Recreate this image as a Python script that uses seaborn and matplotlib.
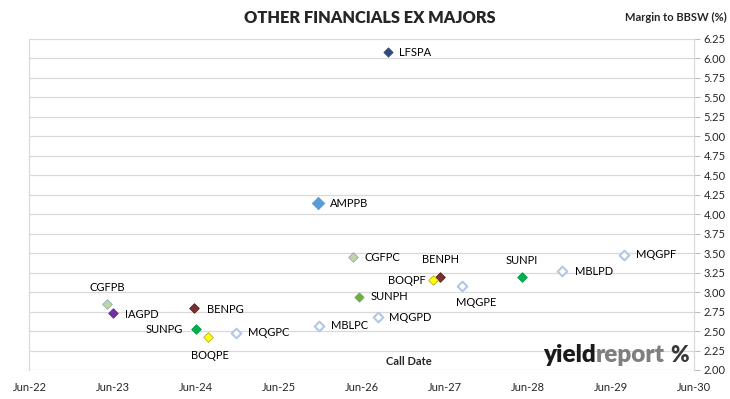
import pandas as pd
import seaborn as sns
import matplotlib.pyplot as plt
import matplotlib.dates as mdates

# Securities: code, call date, margin to BBSW (%)
codes = ['LFSPA', 'AMPPB', 'CGFPC', 'BENPH', 'BOQPF', 'SUNPH', 'MQGPD', 'MBLPC', 'MQGPE',
         'SUNPI', 'MBLPD', 'MQGPF', 'CGFPB', 'IAGPD', 'BENPG', 'SUNPG', 'BOQPE', 'MQGPC']
call_dates = ['2026-09-25', '2025-11-19', '2026-04-24', '2027-05-12', '2027-04-11', '2026-05-21',
              '2026-08-11', '2025-11-25', '2027-08-15', '2028-05-05', '2028-10-29', '2029-07-27',
              '2023-05-08', '2023-06-01', '2024-05-25', '2024-06-01', '2024-07-26', '2024-11-25']
margins = [6.08, 4.14, 3.45, 3.19, 3.15, 2.94, 2.68, 2.57, 3.08,
           3.19, 3.27, 3.48, 2.85, 2.73, 2.79, 2.52, 2.42, 2.48]

# marker styling per issuer family (face, edge, size)
styles = {
    'LFSPA': ('#2E4A7D', '#2E4A7D', 22),
    'AMPPB': ('#5B9BD5', '#5B9BD5', 40),
    'CGFP': ('#C3D69B', '#8EA9C9', 24),
    'BENP': ('#7B2F2F', '#5A1F1F', 24),
    'BOQP': ('#FFFF00', '#B0B040', 24),
    'SUNPH': ('#70AD47', '#70AD47', 22),
    'SUNP': ('#00B050', '#00A040', 24),
    'MQGP': ('white', '#B4C6E7', 24),
    'MBLP': ('white', '#B4C6E7', 24),
    'IAGPD': ('#7030A0', '#7030A0', 24),
}

# label placement (offset in points, alignment)
label_pos = {
    'LFSPA': (8, 0, 'left'), 'AMPPB': (9, 0, 'left'), 'CGFPC': (8, 0, 'left'),
    'BENPH': (0, 13, 'center'), 'BOQPF': (-5, 0, 'right'), 'SUNPH': (8, 0, 'left'),
    'MQGPD': (8, 0, 'left'), 'MBLPC': (9, 0, 'left'), 'MQGPE': (10, -12, 'center'),
    'SUNPI': (0, 12, 'center'), 'MBLPD': (9, 0, 'left'), 'MQGPF': (9, 0, 'left'),
    'CGFPB': (0, 12, 'center'), 'IAGPD': (9, -1, 'left'), 'BENPG': (9, -1, 'left'),
    'SUNPG': (-9, 0, 'right'), 'BOQPE': (1, -13, 'center'), 'MQGPC': (9, 0, 'left'),
}

df = pd.DataFrame({'code': codes, 'date': pd.to_datetime(call_dates), 'margin': margins})


def style_for(code):
    if code in styles:
        return styles[code]
    return styles[code[:4]]


sns.set_style('white')
plt.rcParams['font.family'] = ['Lato', 'DejaVu Sans']

fig = plt.figure(figsize=(7.3, 3.99), dpi=100)
ax = fig.add_axes([0.0404, 0.0727, 0.9103, 0.8296])

for i, row in df.iterrows():
    face, edge, size = style_for(row['code'])
    lw = 1.5 if face == 'white' else 0.6
    sns.scatterplot(data=df.iloc[[i]], x='date', y='margin', marker='D', s=size,
                    color=face, edgecolor=edge, linewidth=lw, ax=ax, zorder=3)
    dx, dy, ha = label_pos[row['code']]
    ax.annotate(row['code'], (row['date'], row['margin']), xytext=(dx, dy),
                textcoords='offset points', ha=ha, va='center', fontsize=8, color='#000000')

ax.set_xlim(pd.Timestamp('2022-06-01'), pd.Timestamp('2030-06-01'))
ax.set_ylim(2.0, 6.25)
ax.xaxis.set_major_locator(mdates.MonthLocator(bymonth=6))
ax.xaxis.set_major_formatter(mdates.DateFormatter('%b-%y'))
ax.set_yticks([2.0 + 0.25 * k for k in range(18)])
ax.yaxis.set_major_formatter(plt.FormatStrFormatter('%.2f'))
ax.yaxis.tick_right()
ax.tick_params(axis='y', which='major', direction='out', length=4, width=0.8,
               color='#BFBFBF', labelsize=8, pad=3)
ax.tick_params(axis='x', length=0, labelsize=8, pad=9)
ax.grid(axis='y', color='#D9D9D9', linewidth=0.9)
ax.set_axisbelow(True)
for side in ['top', 'bottom']:
    ax.spines[side].set_visible(False)
for side in ['left', 'right']:
    ax.spines[side].set_color('#D9D9D9')
    ax.spines[side].set_linewidth(0.9)
ax.set_xlabel('')
ax.set_ylabel('')

fig.text(0.507, 0.955, 'OTHER FINANCIALS EX MAJORS', ha='center', va='center',
         fontsize=11.8, fontweight='heavy')
fig.text(0.995, 0.955, 'Margin to BBSW (%)', ha='right', va='center',
         fontsize=8, fontweight='bold')
ax.text(0.571, 0.027, 'Call Date', transform=ax.transAxes, ha='center', va='center',
        fontsize=8, fontweight='bold')

# yieldreport logo, pieces laid out one after another
renderer = fig.canvas.get_renderer()
logo_y = 1 - 362 / 399
t1 = fig.text(543 / 730, logo_y, 'yield', ha='left', va='baseline', fontsize=17.5,
              fontweight='heavy', color='#1A1A1A')
x1 = t1.get_window_extent(renderer).x1
t2 = fig.text(x1 / 730, logo_y, 'report', ha='left', va='baseline', fontsize=17.5,
              fontweight='heavy', color='#7F7F7F')
fig.text(670 / 730, logo_y, '%', ha='left', va='baseline', fontsize=16,
         fontweight='heavy', color='#3A3A3A')

fig.savefig('out.png', dpi=100)
